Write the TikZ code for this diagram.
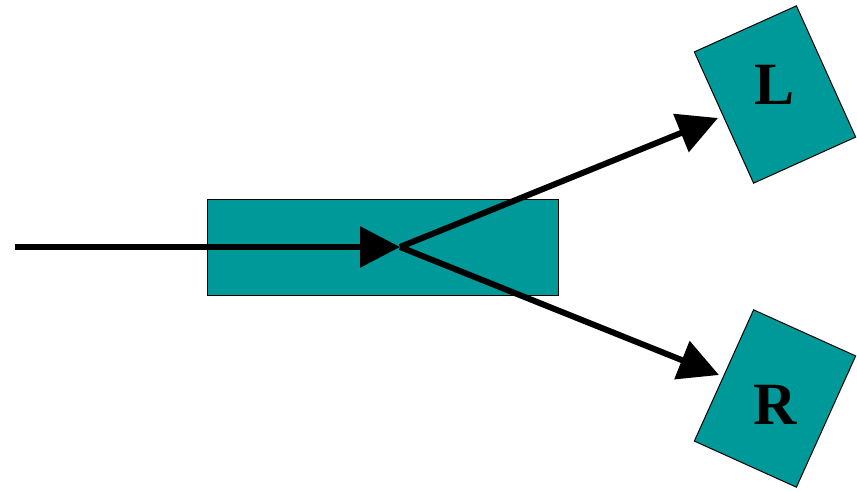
\documentclass[tikz,border=0pt]{standalone}
\usepackage{fontspec}
\setmainfont{Liberation Serif}
\usetikzlibrary{arrows.meta}
\definecolor{tealbox}{RGB}{0,153,153}
\begin{document}
\begin{tikzpicture}[x=1pt,y=1pt,
  box/.style={draw=black,line width=1pt,fill=tealbox,inner sep=0pt,rectangle},
  lbl/.style={font=\fontsize{60}{60}\selectfont\bfseries,inner sep=0pt},
  arr/.style={line width=6pt,-{Triangle[length=40pt,width=40pt]}}]
\useasboundingbox (0,0) rectangle (857,491);
\node[box,minimum width=351pt,minimum height=96pt] (main) at (382.5,244) {};
\node[box,minimum width=112pt,minimum height=144pt,rotate=24.3] (Lbox) at (775,396.5) {};
\node[box,minimum width=112pt,minimum height=144pt,rotate=-24.3] (Rbox) at (775,92.5) {};
\node[lbl] (Ltext) at (775,406) {L};
\node[lbl] (Rtext) at (775,86) {R};
\coordinate (start) at (15,244);
\coordinate (split) at (400,244);
\coordinate (Ltip) at (718,373);
\coordinate (Rtip) at (719,116);
\draw[arr] (start) -- (split);
\draw[arr] (split) -- (Ltip);
\draw[arr] (split) -- (Rtip);
\end{tikzpicture}
\end{document}
